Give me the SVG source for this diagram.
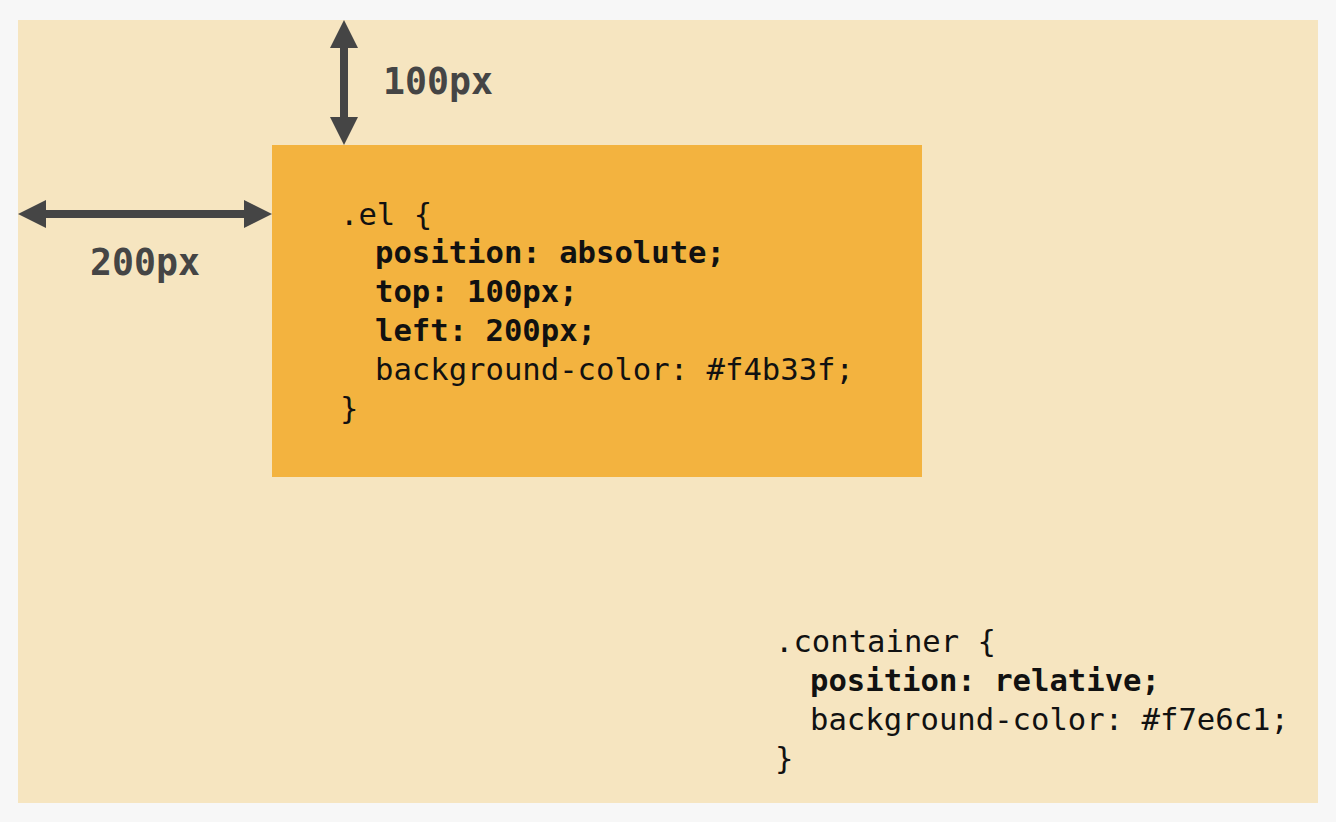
<svg xmlns="http://www.w3.org/2000/svg" width="1336" height="822" viewBox="0 0 1336 822">
  <style>
    .code { font-family: "DejaVu Sans Mono", "Liberation Mono", monospace; font-size: 30.6px; fill: #111; }
    .b { font-weight: bold; }
    .dim { font-family: "DejaVu Sans Mono", "Liberation Mono", monospace; font-size: 36.5px; font-weight: bold; fill: #454545; }
    .shaft { stroke: #454545; stroke-width: 8; fill: none; }
    .head { fill: #454545; }
  </style>
  <rect x="0" y="0" width="1336" height="822" fill="#f7f7f7"/>
  <g id="container">
    <rect x="18" y="20" width="1300" height="783" fill="#f6e5c0"/>
    <text class="code" x="775" y="652" xml:space="preserve">.container {</text>
    <text class="code b" x="810" y="691">position: relative;</text>
    <text class="code" x="810" y="730">background-color: #f7e6c1;</text>
    <text class="code" x="775" y="769">}</text>
  </g>
  <g id="el">
    <rect x="272" y="145" width="650" height="332" fill="#f3b33f"/>
    <text class="code" x="340" y="225" xml:space="preserve">.el {</text>
    <text class="code b" x="375" y="263">position: absolute;</text>
    <text class="code b" x="375" y="302">top: 100px;</text>
    <text class="code b" x="375" y="341">left: 200px;</text>
    <text class="code" x="375" y="380">background-color: #f4b33f;</text>
    <text class="code" x="340" y="419">}</text>
  </g>
  <g id="connectors">
    <line class="shaft" x1="344" y1="44" x2="344" y2="121"/>
    <polygon class="head" points="344,20 358,48 330,48"/>
    <polygon class="head" points="344,145 358,117 330,117"/>
    <line class="shaft" x1="42" y1="214" x2="248" y2="214"/>
    <polygon class="head" points="18,214 46,200 46,228"/>
    <polygon class="head" points="272,214 244,200 244,228"/>
  </g>
  <g id="labels">
    <text class="dim" x="383" y="94">100px</text>
    <text class="dim" x="90" y="275">200px</text>
  </g>
</svg>
